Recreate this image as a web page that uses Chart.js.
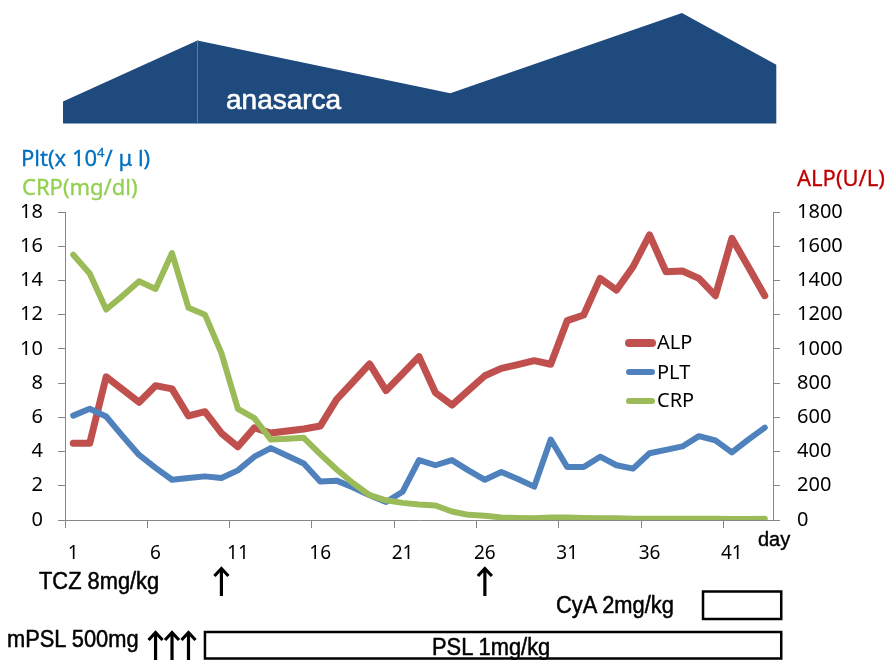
<!DOCTYPE html>
<html><head><meta charset="utf-8">
<script src="https://cdn.jsdelivr.net/npm/chart.js@4/dist/chart.umd.min.js"></script>
<style>
html,body{margin:0;padding:0;background:#fff;}
#wrap{position:relative;width:894px;height:660px;overflow:hidden;background:#fff;}
canvas{position:absolute;left:0;top:0;}
.t{position:absolute;white-space:nowrap;line-height:1;}
.ttl{font-family:"Noto Sans",sans-serif;font-size:22px;-webkit-text-stroke:0.3px currentColor;}
.ann{font-family:"Liberation Sans",Arial,sans-serif;font-size:23px;color:#000;transform:scaleX(0.95);transform-origin:0 0;-webkit-text-stroke:0.5px #000;}
.lg{font-family:"Noto Sans",sans-serif;font-size:20px;color:#000;}
</style></head><body>
<div id="wrap">
<canvas id="c" width="894" height="660"></canvas>
<div class="t" style="left:226px;top:86px;font-family:'Liberation Sans',Arial,sans-serif;font-size:28px;color:#fff;-webkit-text-stroke:0.6px #fff;">anasarca</div>
<div class="t ttl" style="left:21px;top:146px;color:#0070C0;">Plt(x 10<sup style="font-size:13px;vertical-align:9px;">4</sup>/ μ l)</div>
<div class="t ttl" style="left:22px;top:175px;color:#92D050;">CRP(mg/dl)</div>
<div class="t ttl" style="left:797px;top:166px;color:#C00000;">ALP(U/L)</div>
<div class="t lg" style="left:657px;top:332px;">ALP</div>
<div class="t lg" style="left:657px;top:362px;">PLT</div>
<div class="t lg" style="left:657px;top:390px;">CRP</div>
<div class="t" style="left:758px;top:529px;font-family:'Liberation Sans',Arial,sans-serif;font-size:20px;color:#000;-webkit-text-stroke:0.4px #000;">day</div>
<div class="t ann" style="left:39px;top:570px;">TCZ 8mg/kg</div>
<div class="t ann" style="left:556px;top:594px;">CyA 2mg/kg</div>
<div class="t ann" style="left:7px;top:628px;">mPSL 500mg</div>
<div class="t ann" style="left:432px;top:636px;">PSL 1mg/kg</div>
</div>
<script>
// ---- data ----
const days = ['1','2','3','4','5','6','7','8','9','10','11','12','13','14','15','16','17','18','19','20','21','22','23','24','25','26','27','28','29','30','31','32','33','34','35','36','37','38','39','40','41','42','43'];
const shownDayTicks = ['1','6','11','16','21','26','31','36','41'];
const alp = [448,448,837,762,688,785,766,608,633,507,428,539,508,520,532,549,705,808,912,756,855,955,744,672,757,843,886,908,931,910,1165,1198,1412,1344,1480,1666,1451,1455,1412,1311,1646,1480,1311];
const plt = [6.1,6.5,6.05,4.9,3.8,3.05,2.35,2.45,2.55,2.45,2.9,3.7,4.2,3.75,3.3,2.25,2.3,1.9,1.45,1.05,1.65,3.5,3.2,3.5,2.9,2.35,2.8,2.4,1.95,4.7,3.1,3.1,3.7,3.2,3.0,3.9,4.1,4.3,4.9,4.65,3.95,4.7,5.4];
const crp = [15.5,14.4,12.3,13.1,13.95,13.5,15.6,12.4,12.0,9.75,6.5,5.95,4.7,4.75,4.8,3.85,2.95,2.15,1.45,1.15,1.0,0.9,0.85,0.5,0.3,0.25,0.15,0.12,0.1,0.15,0.15,0.12,0.1,0.1,0.08,0.08,0.08,0.08,0.07,0.07,0.06,0.06,0.08];
const leftTicks = [0,2,4,6,8,10,12,14,16,18];
const rightTicks = [0,200,400,600,800,1000,1200,1400,1600,1800];
// anasarca severity profile (day, relative level)
const anasarcaDay = [0.38, 8.54, 23.9, 37.97, 43.7];
const anasarcaLevel = [2.0, 7.55, 2.75, 10.05, 5.35];
// treatments
const tczDays = [10, 26];
const mpslDays = [6, 7, 8];
const pslSpan = [9, 44];
const cyaSpan = [39.25, 44];

const colors = {alp:'#C0504D', plt:'#4F81BD', crp:'#9BBB59', axis:'#868686', ana:'#1F4A7D'};

function drawArrow(ctx, x, yTop, yBot){
  ctx.beginPath();
  ctx.moveTo(x, yBot); ctx.lineTo(x, yTop+2);
  ctx.stroke();
  ctx.beginPath();
  ctx.moveTo(x-7, yTop+9); ctx.lineTo(x, yTop+1.5); ctx.lineTo(x+7, yTop+9);
  ctx.stroke();
}

const annot = {
  id:'annot',
  afterDraw(chart){
    const ctx = chart.ctx, xs = chart.scales.x;
    const px = d => xs.getPixelForValue(d-1);
    ctx.save();
    // anasarca band
    const base = 123.5, unit = 11;
    ctx.fillStyle = colors.ana;
    ctx.beginPath();
    ctx.moveTo(px(anasarcaDay[0]), base);
    for (let i=0;i<anasarcaDay.length;i++) ctx.lineTo(px(anasarcaDay[i]), base - anasarcaLevel[i]*unit);
    ctx.lineTo(px(anasarcaDay[anasarcaDay.length-1]), base);
    ctx.closePath(); ctx.fill();
    ctx.strokeStyle = '#5a7cab'; ctx.lineWidth = 1;
    ctx.beginPath(); const xp = Math.round(px(anasarcaDay[1]))+0.5;
    ctx.moveTo(xp, base - anasarcaLevel[1]*unit); ctx.lineTo(xp, base); ctx.stroke();
    // legend lines
    ctx.lineCap = 'round';
    [[colors.alp,343,8],[colors.plt,372,6],[colors.crp,401,6]].forEach(([c,y,w])=>{
      ctx.strokeStyle=c; ctx.lineWidth=w; ctx.beginPath(); ctx.moveTo(629,y); ctx.lineTo(652,y); ctx.stroke();
    });
    // arrows
    ctx.strokeStyle = '#000'; ctx.lineWidth = 3.2; ctx.lineCap = 'butt'; ctx.lineJoin='miter';
    tczDays.forEach(d => drawArrow(ctx, px(d), 567, 596));
    mpslDays.forEach(d => drawArrow(ctx, px(d), 631, 660));
    // boxes
    ctx.lineWidth = 2.5;
    ctx.strokeRect(px(cyaSpan[0]), 591.5, px(cyaSpan[1]) - px(cyaSpan[0]), 27.5);
    ctx.strokeRect(px(pslSpan[0]), 632, px(pslSpan[1]) - px(pslSpan[0]), 26.5);
    ctx.restore();
  }
};

new Chart(document.getElementById('c'), {
  type:'line',
  data:{
    labels: days,
    datasets:[
      {label:'ALP', data:alp, yAxisID:'y2', borderColor:colors.alp, backgroundColor:colors.alp, borderWidth:7, order:3},
      {label:'PLT', data:plt, yAxisID:'y', borderColor:colors.plt, backgroundColor:colors.plt, borderWidth:6, order:2},
      {label:'CRP', data:crp, yAxisID:'y', borderColor:colors.crp, backgroundColor:colors.crp, borderWidth:6, order:1}
    ]
  },
  options:{
    responsive:false, animation:false,
    layout:{padding:{top:212,left:0,right:0,bottom:0}},
    elements:{line:{tension:0, borderJoinStyle:'round', borderCapStyle:'round', fill:false}, point:{radius:0, hoverRadius:0}},
    plugins:{legend:{display:false}, tooltip:{enabled:false}},
    scales:{
      x:{
        type:'category', offset:true,
        grid:{offset:true, drawOnChartArea:false, tickLength:8, tickWidth:1,
              tickColor: c => (c.index % 5 === 0 ? colors.axis : 'rgba(0,0,0,0)')},
        border:{color:colors.axis, width:1},
        ticks:{autoSkip:false, maxRotation:0, minRotation:0, padding:14, color:'#000',
               font:{family:'Noto Sans', size:19},
               callback:(v,i)=> shownDayTicks.includes(days[i]) ? days[i] : ''},
        afterFit: s => { s.height = 140; }
      },
      y:{
        position:'left', min:0, max:18,
        afterBuildTicks: s => { s.ticks = leftTicks.map(v=>({value:v})); },
        grid:{drawOnChartArea:false, tickLength:7, tickColor:colors.axis},
        border:{color:colors.axis, width:1},
        ticks:{padding:15, color:'#000', font:{family:'Noto Sans', size:20}, callback: v => String(v)},
        afterFit: s => { s.width = 65; }
      },
      y2:{
        position:'right', min:0, max:1800,
        afterBuildTicks: s => { s.ticks = rightTicks.map(v=>({value:v})); },
        grid:{drawOnChartArea:false, tickLength:7, tickColor:colors.axis},
        border:{color:colors.axis, width:1},
        ticks:{padding:17, color:'#000', font:{family:'Noto Sans', size:20}, callback: v => String(v)},
        afterFit: s => { s.width = 121; }
      }
    }
  },
  plugins:[annot]
});
</script>
</body></html>
